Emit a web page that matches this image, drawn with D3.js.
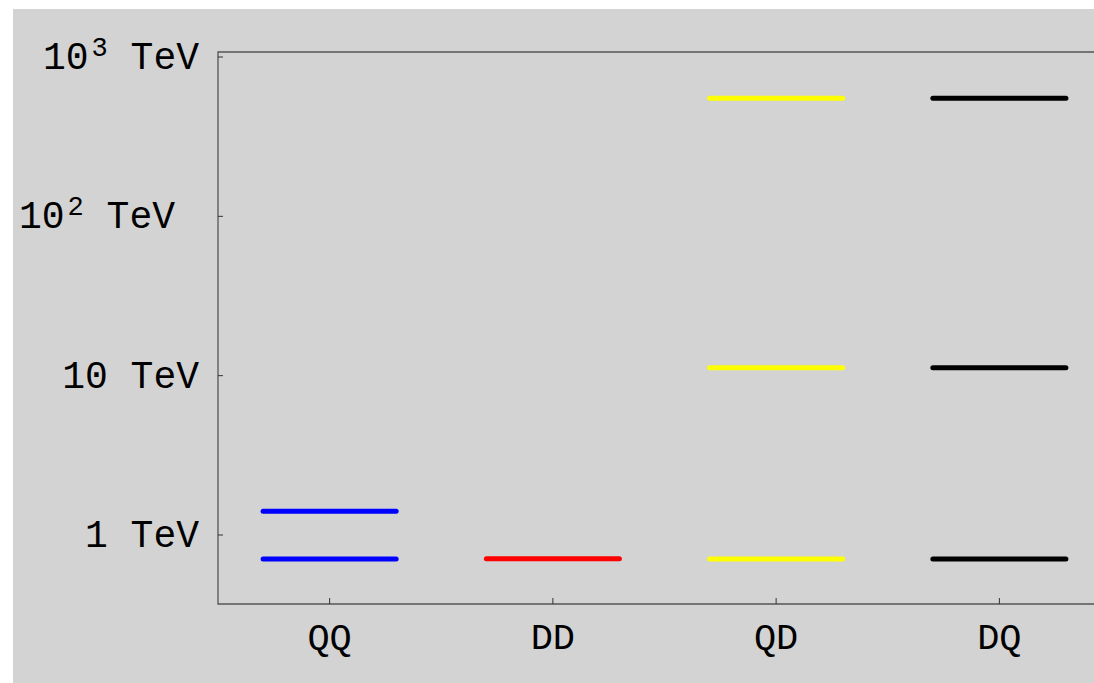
<!DOCTYPE html>
<html>
<head>
<meta charset="utf-8">
<script src="https://cdn.jsdelivr.net/npm/d3@7"></script>
<style>
  body { margin: 0; background: #fff; }
  svg { display: block; }
  text { font-family: "Courier New", "Liberation Mono", monospace; fill: #000; }
</style>
</head>
<body>
<svg id="chart" width="1094" height="683"></svg>
<script>
// catégories et niveaux (TeV)
const categories = ["QQ", "DD", "QD", "DQ"];
const levelsQQ = [0.707, 1.41];
const levelsDD = [0.71];
const levelsQD = [0.707, 11.2, 551];
const levelsDQ = [0.707, 11.2, 551];
const colours = ["#0000ff", "#ff0000", "#ffff00", "#000000"];
const yTicks = [1, 10, 100, 1000];
const yTickBase = ["1", "10", "10", "10"];
const yTickExp = ["", "", "2", "3"];

const series = [levelsQQ, levelsDD, levelsQD, levelsDQ];

let svg = d3.select("#chart");
let frame = {left: 218, right: 1111, top: 52, bottom: 604};

svg.append("rect")
	.attr("x", 13).attr("y", 9)
	.attr("width", 1094 - 13).attr("height", 683 - 9)
	.attr("fill", "#d3d3d3");

let x = d3.scalePoint()
	.domain(categories)
	.range([frame.left, frame.right])
	.padding(0.5);
let y = d3.scaleLog()
	.domain([1, 1000])
	.range([535, 57]);
let halfLen = x.step() * 0.298;

// cadre
svg.append("path")
	.attr("d", `M${frame.right},${frame.top}H${frame.left}V${frame.bottom}H${frame.right}`)
	.attr("fill", "none")
	.attr("stroke", "#555")
	.attr("stroke-width", 1.3);

// axe vertical (l'étiquette 10^2 est décalée vers la gauche dans l'original)
let ya = svg.append("g");
ya.selectAll("line")
	.data(yTicks)
	.join("line")
	.attr("x1", frame.left).attr("x2", frame.left + 5)
	.attr("y1", d => y(d)).attr("y2", d => y(d))
	.attr("stroke", "#333");
let lab = ya.selectAll("text")
	.data(yTicks)
	.join("text")
	.attr("x", d => d === 100 ? 175 : 199)
	.attr("y", d => y(d) + 12)
	.attr("text-anchor", "end")
	.style("font-size", "38px");
lab.append("tspan").text((d, k) => yTickBase[k]);
lab.append("tspan")
	.attr("dx", (d, k) => yTickExp[k] ? 3 : 0)
	.attr("dy", (d, k) => yTickExp[k] ? -13 : 0)
	.style("font-size", "27px")
	.text((d, k) => yTickExp[k]);
lab.append("tspan")
	.attr("dy", (d, k) => yTickExp[k] ? 13 : 0)
	.text(" TeV");

// axe horizontal
let xa = svg.append("g");
xa.selectAll("line")
	.data(categories)
	.join("line")
	.attr("x1", d => x(d)).attr("x2", d => x(d))
	.attr("y1", frame.bottom).attr("y2", frame.bottom - 6)
	.attr("stroke", "#333");
xa.selectAll("text")
	.data(categories)
	.join("text")
	.attr("x", d => x(d))
	.attr("y", 649)
	.attr("text-anchor", "middle")
	.style("font-size", "37px")
	.text(d => d);

// niveaux
categories.forEach((c, k) => {
	svg.append("g")
		.selectAll("line")
		.data(series[k])
		.join("line")
		.attr("x1", x(c) - halfLen).attr("x2", x(c) + halfLen)
		.attr("y1", d => y(d)).attr("y2", d => y(d))
		.attr("stroke", colours[k])
		.attr("stroke-width", 5)
		.attr("stroke-linecap", "round");
});
</script>
</body>
</html>
